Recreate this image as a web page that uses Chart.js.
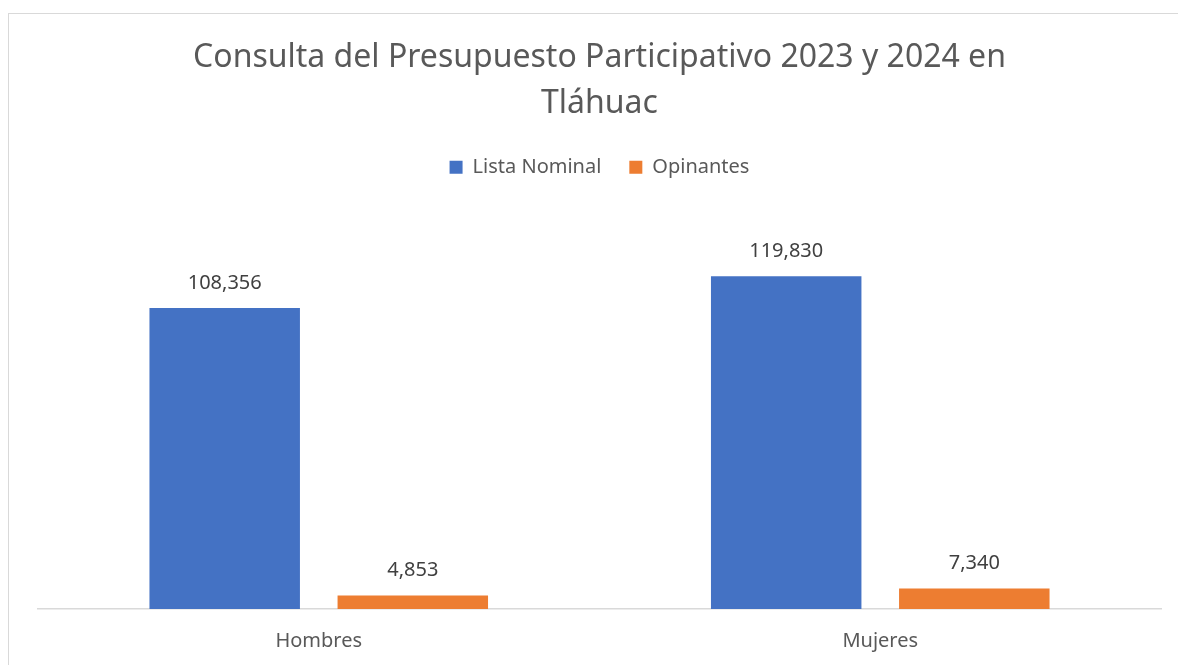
<!DOCTYPE html>
<html>
<head>
<meta charset="utf-8">
<script src="https://cdn.jsdelivr.net/npm/chart.js@4.4.0/dist/chart.umd.min.js"></script>
<style>
  html, body { margin: 0; padding: 0; background: #fff; overflow: hidden; }
  #wrap { position: relative; width: 1178px; height: 665px; overflow: hidden; }
  #frame { position: absolute; left: 8px; top: 13px; width: 1200px; height: 700px; border: 1px solid #d9d9d9; }
  #chart { position: absolute; left: 0; top: 0; }
</style>
</head>
<body>
<div id="wrap">
  <div id="frame"></div>
  <canvas id="chart" width="1178" height="700"></canvas>
</div>
<script>
"use strict";

// Chart data
const categories = ["Hombres", "Mujeres"];
const seriesNames = ["Lista Nominal", "Opinantes"];
const listaNominal = [108356, 119830];
const opinantes = [4853, 7340];
const titleLines = ["Consulta del Presupuesto Participativo 2023 y 2024 en", "Tláhuac"];

const FONT = "'Noto Sans', 'Open Sans', sans-serif";

// draws the value above each bar
const valueLabels = {
  id: "valueLabels",
  afterDatasetsDraw(chart) {
    const ctx = chart.ctx;
    ctx.save();
    ctx.font = "20px " + FONT;
    ctx.fillStyle = "#404040";
    ctx.textAlign = "center";
    ctx.textBaseline = "middle";
    chart.data.datasets.forEach((ds, i) => {
      chart.getDatasetMeta(i).data.forEach((bar, j) => {
        ctx.fillText(ds.data[j].toLocaleString("en-US"), bar.x, bar.y - 25);
      });
    });
    ctx.restore();
  },
};

// extra space under the legend
const legendGap = {
  id: "legendGap",
  beforeInit(chart) {
    const origFit = chart.legend.fit;
    chart.legend.fit = function () {
      origFit.bind(chart.legend)();
      this.height += 33;
    };
  },
};

new Chart(document.getElementById("chart").getContext("2d"), {
  type: "bar",
  data: {
    labels: categories,
    datasets: [
      {
        label: seriesNames[0],
        data: listaNominal,
        backgroundColor: "#4472C4",
      },
      {
        label: seriesNames[1],
        data: opinantes,
        backgroundColor: "#ED7D31",
      },
    ],
  },
  options: {
    responsive: false,
    animation: false,
    categoryPercentage: 0.67,
    barPercentage: 0.8,
    layout: { padding: { top: 25, left: 38, right: 17, bottom: 27 } },
    plugins: {
      title: {
        display: true,
        text: titleLines,
        color: "#595959",
        font: { family: FONT, size: 32, weight: "normal", lineHeight: 1.44 },
        padding: { top: 10, bottom: 2 },
      },
      legend: {
        position: "top",
        labels: {
          color: "#595959",
          font: { family: FONT, size: 20 },
          boxWidth: 13,
          boxHeight: 13,
          padding: 28,
        },
      },
      tooltip: { enabled: false },
    },
    scales: {
      x: {
        grid: { display: false, drawTicks: false },
        border: { display: true, color: "#d9d9d9", width: 1.5 },
        ticks: { color: "#595959", font: { family: FONT, size: 20 }, padding: 20 },
      },
      y: {
        display: false,
        min: 0,
        max: 140000,
      },
    },
  },
  plugins: [valueLabels, legendGap],
});
</script>
</body>
</html>
